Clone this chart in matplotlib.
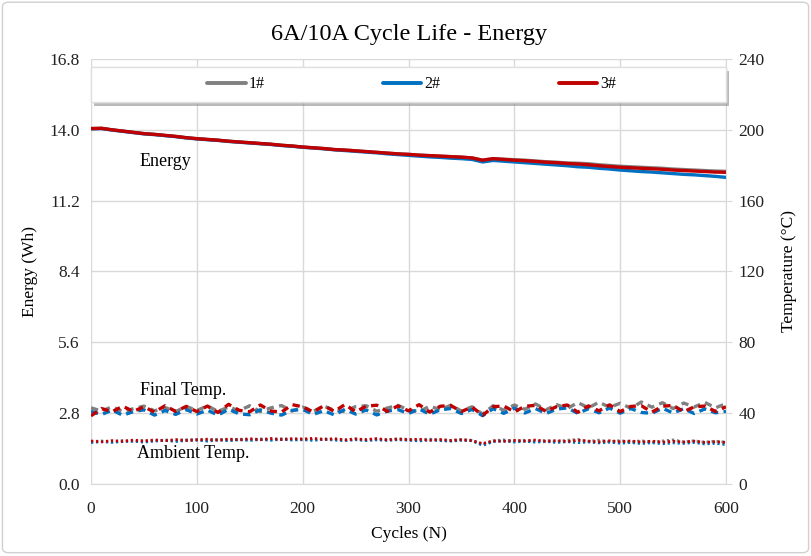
import matplotlib
matplotlib.use("Agg")
import matplotlib.pyplot as plt
from matplotlib.patches import Rectangle, FancyBboxPatch
import matplotlib.patheffects as pe

plt.rcParams['font.family'] = ['Liberation Serif', 'DejaVu Serif']

# cycles sampled every 10
cycles = list(range(0, 601, 10))

energy_1 = [14.05, 14.06, 14.00, 13.95, 13.90, 13.85, 13.82, 13.78, 13.74, 13.69,
            13.65, 13.62, 13.59, 13.55, 13.52, 13.49, 13.46, 13.43, 13.39, 13.36,
            13.32, 13.29, 13.26, 13.22, 13.20, 13.17, 13.14, 13.11, 13.08, 13.05,
            13.03, 13.00, 12.98, 12.96, 12.94, 12.92, 12.89, 12.80, 12.86, 12.84,
            12.82, 12.80, 12.77, 12.74, 12.72, 12.69, 12.68, 12.66, 12.62, 12.59,
            12.56, 12.54, 12.52, 12.50, 12.48, 12.45, 12.43, 12.41, 12.39, 12.37,
            12.36]
energy_2 = [14.04, 14.05, 13.99, 13.94, 13.89, 13.84, 13.81, 13.77, 13.73, 13.68,
            13.64, 13.61, 13.58, 13.54, 13.51, 13.48, 13.45, 13.42, 13.38, 13.35,
            13.31, 13.28, 13.25, 13.21, 13.18, 13.15, 13.12, 13.09, 13.05, 13.02,
            12.99, 12.96, 12.93, 12.91, 12.88, 12.86, 12.83, 12.73, 12.79, 12.76,
            12.73, 12.70, 12.67, 12.64, 12.61, 12.58, 12.54, 12.52, 12.48, 12.45,
            12.41, 12.38, 12.35, 12.33, 12.30, 12.27, 12.24, 12.22, 12.19, 12.16,
            12.12]
energy_3 = [14.05, 14.06, 14.00, 13.95, 13.90, 13.85, 13.82, 13.78, 13.74, 13.69,
            13.65, 13.62, 13.59, 13.55, 13.52, 13.49, 13.46, 13.43, 13.39, 13.36,
            13.32, 13.29, 13.26, 13.22, 13.20, 13.17, 13.14, 13.11, 13.08, 13.05,
            13.03, 13.00, 12.98, 12.96, 12.94, 12.92, 12.89, 12.80, 12.86, 12.83,
            12.80, 12.78, 12.75, 12.72, 12.70, 12.67, 12.65, 12.62, 12.58, 12.55,
            12.52, 12.50, 12.48, 12.46, 12.44, 12.41, 12.39, 12.37, 12.35, 12.33,
            12.32]

final_1 = [43.0, 41.2, 43.6, 40.8, 42.5, 44.0, 41.3, 43.2, 40.9, 43.8,
           41.5, 44.1, 41.0, 43.5, 41.4, 44.2, 40.9, 43.0, 44.3, 41.2,
           43.4, 41.0, 44.0, 41.6, 40.9, 43.7, 44.2, 41.1, 42.9, 44.4,
           41.8, 40.9, 43.9, 42.0, 44.5, 41.2, 43.6, 39.5, 44.2, 41.7,
           44.6, 42.2, 45.2, 41.9, 44.8, 42.6, 46.0, 43.0, 46.2, 43.3,
           45.6, 42.8, 46.3, 43.4, 45.9, 42.6, 45.7, 43.5, 46.1, 43.0,
           45.4]
final_2 = [41.0, 39.2, 41.8, 38.8, 40.9, 41.9, 38.9, 41.5, 39.3, 42.0,
           39.5, 41.7, 38.9, 42.2, 39.6, 39.1, 41.9, 40.0, 38.9, 41.6,
           42.1, 39.3, 41.4, 39.0, 42.2, 39.5, 41.8, 39.0, 41.2, 42.0,
           39.8, 42.4, 39.4, 41.9, 42.6, 39.8, 42.1, 38.6, 42.5, 39.9,
           42.8, 40.1, 42.6, 39.8, 42.3, 43.0, 39.9, 42.5, 40.2, 42.9,
           40.0, 42.6, 40.4, 39.9, 42.8, 40.1, 42.5, 39.8, 42.4, 40.2,
           41.0]
final_3 = [38.5, 42.6, 40.8, 43.9, 41.0, 43.6, 40.6, 44.2, 41.0, 43.8,
           40.9, 44.0, 40.4, 45.0, 41.6, 40.8, 44.6, 41.2, 40.6, 44.8,
           43.6, 40.7, 44.2, 41.0, 44.9, 40.8, 43.9, 44.5, 41.0, 44.1,
           41.3, 44.8, 40.6, 43.9, 44.3, 40.9, 43.5, 38.8, 43.6, 44.1,
           40.7, 43.9, 44.4, 41.0, 43.7, 44.6, 40.5, 44.1, 41.3, 44.7,
           40.9, 43.8, 44.2, 40.6, 43.9, 44.4, 40.8, 43.6, 44.0, 41.0,
           43.6]

ambient_1 = [24.0, 24.3, 23.8, 24.6, 24.0, 24.7, 24.2, 24.9, 24.4, 25.0,
             25.1, 24.5, 25.3, 24.7, 25.4, 24.9, 25.5, 25.0, 25.6, 25.1,
             25.5, 24.9, 25.6, 25.1, 24.9, 25.5, 24.8, 25.3, 25.0, 25.5,
             25.2, 24.7, 25.3, 24.8, 24.6, 25.1, 24.7, 22.3, 24.4, 24.9,
             24.3, 24.7, 24.1, 24.6, 24.0, 24.7, 25.2, 24.1, 24.8, 23.9,
             24.5, 23.8, 24.4, 23.7, 24.3, 24.9, 23.8, 24.4, 23.6, 24.2,
             23.6]
ambient_2 = [23.4, 23.9, 23.5, 24.0, 24.2, 23.6, 24.3, 24.6, 24.0, 24.6,
             24.8, 24.2, 24.9, 24.4, 25.0, 24.6, 25.1, 24.7, 25.2, 24.8,
             25.0, 24.6, 25.2, 24.8, 24.5, 25.0, 24.5, 24.9, 24.6, 25.0,
             24.7, 24.3, 24.9, 24.5, 24.2, 24.7, 24.4, 21.8, 23.9, 24.3,
             23.7, 24.1, 23.6, 24.0, 23.4, 23.9, 23.3, 23.7, 23.2, 23.6,
             23.0, 23.4, 22.8, 23.3, 22.7, 23.2, 22.9, 23.4, 22.6, 23.0,
             22.2]
ambient_3 = [24.3, 23.8, 24.5, 24.1, 24.8, 24.2, 24.9, 24.4, 25.1, 24.6,
             24.9, 25.3, 24.7, 25.4, 24.9, 25.6, 25.0, 25.7, 25.1, 25.6,
             25.3, 25.8, 25.1, 25.6, 24.9, 25.4, 25.1, 25.6, 24.9, 25.4,
             25.0, 25.3, 24.7, 25.1, 24.6, 25.0, 24.5, 22.8, 24.4, 24.1,
             24.6, 24.3, 24.8, 24.1, 24.5, 24.0, 24.7, 24.2, 23.8, 24.4,
             23.9, 24.3, 23.7, 24.2, 23.6, 24.1, 23.7, 24.2, 23.5, 23.9,
             23.5]

labels = ['1#', '2#', '3#']
colors = ['#808080', '#0070c0', '#c00000']

fig = plt.figure(figsize=(8.11, 5.56), dpi=100)
fig.patches.append(FancyBboxPatch((0.003, 0.006), 0.994, 0.99, boxstyle='round,pad=0,rounding_size=0.008',
                                  transform=fig.transFigure, facecolor='none', edgecolor='#d0d0d0',
                                  lw=1, zorder=-10))
ax = fig.add_axes([0.1122, 0.1295, 0.7830, 0.7644])
ax2 = ax.twinx()

grid_c = '#d9d9d9'
ax.set_xlim(0, 600)
ax.set_ylim(0, 16.8)
ax.set_xticks(range(0, 601, 100))
ax.set_yticks([0, 2.8, 5.6, 8.4, 11.2, 14.0, 16.8])
ax.set_yticklabels(['0.0', '2.8', '5.6', '8.4', '11.2', '14.0', '16.8'])
ax.grid(True, color=grid_c, lw=1)
ax.set_axisbelow(True)
ax2.set_ylim(0, 240)
ax2.set_yticks(range(0, 241, 40))

for a in (ax, ax2):
    for s in a.spines.values():
        s.set_visible(False)
ax.spines['bottom'].set_visible(True)
ax.spines['bottom'].set_color(grid_c)
ax2.spines['right'].set_visible(True)
ax2.spines['right'].set_color(grid_c)
ax.tick_params(axis='y', length=0, labelsize=12.5, pad=8, colors='#222222')
ax.tick_params(axis='x', length=0, labelsize=12.5, pad=12, colors='#222222')
ax2.tick_params(axis='y', length=4, color=grid_c, labelsize=12.5, pad=5, labelcolor='#222222')

for e, c, l in zip([energy_1, energy_2, energy_3], colors, labels):
    ax.plot(cycles, e, color=c, lw=2.4, label=l, solid_capstyle='round')
for f, c in zip([final_1, final_2, final_3], colors):
    ax2.plot(cycles, f, color=c, lw=2.4, ls=(0, (2.2, 1.6)))
for a_, c in zip([ambient_1, ambient_2, ambient_3], colors):
    ax2.plot(cycles, a_, color=c, lw=2.0, ls=(0, (0.8, 1.0)))

ax.set_ylabel('Energy (Wh)', fontsize=12.5, labelpad=8)
ax2.set_ylabel('Temperature (°C)', fontsize=12.5, labelpad=12)
ax.set_xlabel('Cycles (N)', fontsize=12.5, labelpad=7)
fig.text(0.505, 0.938, '6A/10A Cycle Life - Energy', ha='center', va='center', fontsize=17.5)

ax.text(46, 12.75, 'Energy', fontsize=13, va='center')
ax.text(46, 3.7, 'Final Temp.', fontsize=13, va='center')
ax.text(43, 1.2, 'Ambient Temp.', fontsize=13, va='center')

# legend box with shadow, drawn above both axes
box = Rectangle((0.0, 0.899), 1.0, 0.082, transform=ax.transAxes, facecolor='white',
                edgecolor='#e0e0e0', lw=1, zorder=4,
                path_effects=[pe.withSimplePatchShadow(offset=(2, -3), shadow_rgbFace='#8c8c8c', alpha=0.6),
                              pe.Normal()])
fig.add_artist(box)
handles, lbls = ax.get_legend_handles_labels()
for h in handles:
    h.set_linewidth(2.8)
leg = fig.legend(handles, lbls, loc='center', bbox_to_anchor=(0.505, 0.94), ncol=3, frameon=False,
                 fontsize=11.5, handlelength=2.4, handletextpad=0.2, columnspacing=7.4,
                 bbox_transform=ax.transAxes)
for h in handles:
    h.set_linewidth(2.4)
leg.set_zorder(6)

fig.savefig('out.png', dpi=100)
